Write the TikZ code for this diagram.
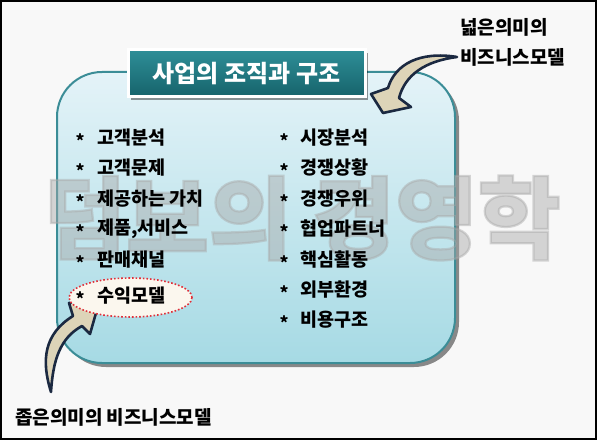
\documentclass[tikz,border=0pt]{standalone}
\usepackage{fontspec}
\setmainfont{Noto Sans CJK KR}
\newfontfamily\wmfont{Noto Sans CJK KR}[FakeBold=2.5]
\usetikzlibrary{shapes.geometric,shadows}
\definecolor{bgcol}{HTML}{F8F8F8}
\definecolor{boxtop}{HTML}{E4F3F8}
\definecolor{boxbot}{HTML}{A6DAE4}
\definecolor{boxline}{HTML}{3B8D97}
\definecolor{titletop}{HTML}{2E8E97}
\definecolor{titlebot}{HTML}{16636B}
\definecolor{arrowfill}{HTML}{DDD4B8}
\definecolor{arrowline}{HTML}{1B2941}
\definecolor{ovalline}{HTML}{E0303A}
\definecolor{ovalfill}{HTML}{FBF7EE}
\definecolor{wmcol}{HTML}{A8A8A8}
\begin{document}
\begin{tikzpicture}[x=1pt,y=1pt,
  mainbox/.style={draw=boxline, line width=2pt, rounded corners=45pt,
    top color=boxtop, bottom color=boxbot, inner sep=0pt,
    drop shadow={shadow xshift=4pt, shadow yshift=-4pt, opacity=0.45, fill=black}},
  titlebox/.style={draw=white, line width=3pt, top color=titletop, bottom color=titlebot,
    text=white, inner sep=0pt, font=\fontsize{24}{26}\selectfont\bfseries,
    drop shadow={shadow xshift=3pt, shadow yshift=-3pt, opacity=0.4, fill=black}},
  item/.style={anchor=west, inner sep=0pt, font=\fontsize{18.5}{20}\selectfont\bfseries},
  star/.style={anchor=center, inner sep=0pt, yshift=-3pt, font=\fontsize{17}{18}\selectfont\bfseries},
  lbl/.style={anchor=west, inner sep=0pt, font=\fontsize{19}{21}\selectfont\bfseries},
  wm/.style={inner sep=0pt, text=wmcol, text opacity=0.45, font=\wmfont\fontsize{90}{94}\selectfont\bfseries},
  oval/.style={ellipse, draw=ovalline, dotted, line width=1.6pt, fill=ovalfill, inner sep=0pt},
  blockarrow/.style={fill=arrowfill, draw=arrowline, line width=2.6pt, line join=round}]
\useasboundingbox (0,0) rectangle (597,440);
\fill[bgcol] (0,0) rectangle (597,440);
\draw[line width=2pt] (1,1) rectangle (596,439);

% main box
\node[mainbox, minimum width=398pt, minimum height=291pt] (box) at (256,222.5) {};

% watermark
\node[wm] (wm) at (302,222) {덤보의 경영학};

% title
\node[titlebox, minimum width=237pt, minimum height=47pt] (title) at (246.5,366.5) {사업의 조직과 구조};

% left column
\node[star] (sl1) at (80,302) {*};
\node[item] (l1) at (97,302) {고객분석};
\node[star] (sl2) at (80,272) {*};
\node[item] (l2) at (97,272) {고객문제};
\node[star] (sl3) at (80,241) {*};
\node[item] (l3) at (97,241) {제공하는 가치};
\node[star] (sl4) at (80,211) {*};
\node[item] (l4) at (97,211) {제품,서비스};
\node[star] (sl5) at (80,180) {*};
\node[item] (l5) at (97,180) {판매채널};

% right column
\node[star] (sr1) at (284,302) {*};
\node[item] (r1) at (300,302) {시장분석};
\node[star] (sr2) at (284,272) {*};
\node[item] (r2) at (300,272) {경쟁상황};
\node[star] (sr3) at (284,241) {*};
\node[item] (r3) at (300,241) {경쟁우위};
\node[star] (sr4) at (284,211) {*};
\node[item] (r4) at (300,211) {협업파트너};
\node[star] (sr5) at (284,180) {*};
\node[item] (r5) at (300,180) {핵심활동};
\node[star] (sr6) at (284,150) {*};
\node[item] (r6) at (300,150) {외부환경};
\node[star] (sr7) at (284,120) {*};
\node[item] (r7) at (300,120) {비용구조};

% labels
\node[lbl] (wide1) at (460,413) {넓은의미의};
\node[lbl] (wide2) at (460,383) {비즈니스모델};
\node[lbl] (narrow) at (15,23) {좁은의미의 비즈니스모델};

% top block arrow (from wide2 towards box)
\coordinate (ta) at ([xshift=-3pt]wide2.west);
\draw[blockarrow] (ta) .. controls (420,389) and (395,376) .. (388,352)
  -- (371,346) -- (383,327) -- (411,333) -- (399,342)
  .. controls (405,365) and (425,379) .. (ta) -- cycle;

% bottom block arrow (from narrow label towards oval)
\coordinate (ba) at (51,48);
\draw[blockarrow] (ba) .. controls (41,80) and (44,106) .. (73,124)
  -- (69,137) -- (100,141) -- (90,106) -- (82,114)
  .. controls (60,102) and (53,80) .. (ba) -- cycle;

% oval around 수익모델
\node[oval, minimum width=123pt, minimum height=39pt] (ov) at (130.5,142.5) {};
\node[star] (sl6) at (80,144) {*};
\node[item] (l6) at (97,144) {수익모델};
\end{tikzpicture}
\end{document}
